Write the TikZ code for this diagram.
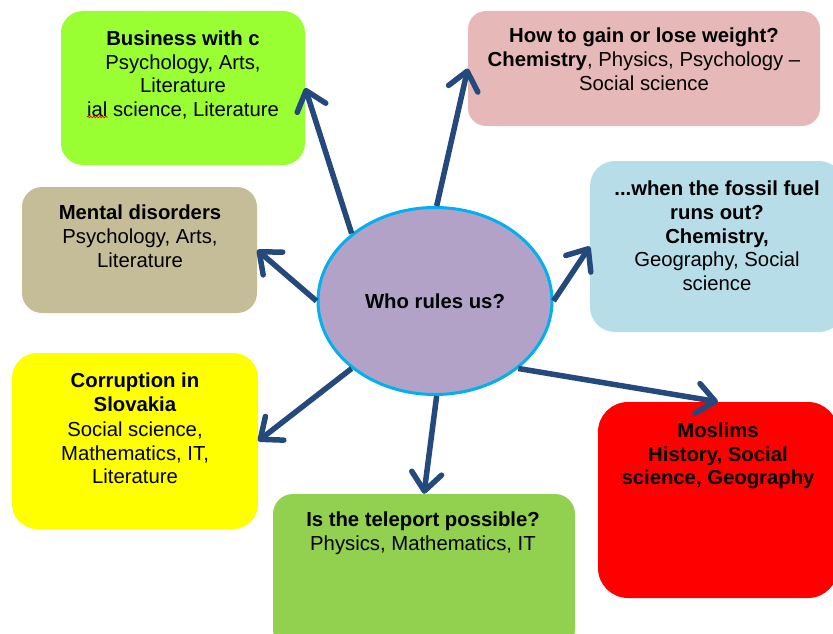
\documentclass[tikz,border=0pt]{standalone}
\usepackage{fontspec}
\setmainfont{Liberation Sans}
\usetikzlibrary{arrows.meta,shapes.geometric,calc,decorations.pathmorphing}
\definecolor{arrowblue}{RGB}{36,73,125}
\definecolor{ellfill}{HTML}{B3A2C7}
\definecolor{ellborder}{HTML}{00B0F0}
\definecolor{cgreenA}{HTML}{99FF33}
\definecolor{cpink}{HTML}{E6B9B8}
\definecolor{ctan}{HTML}{C4BD97}
\definecolor{cblue}{HTML}{B7DEE8}
\definecolor{cyellow}{HTML}{FFFF00}
\definecolor{cgreenB}{HTML}{92D050}
\definecolor{cred}{HTML}{FF0000}
\begin{document}
\begin{tikzpicture}[x=1pt,y=-1pt,
  box/.style={rectangle, rounded corners=22pt, inner sep=0pt, draw=none},
  txt/.style={align=center, inner sep=0pt, anchor=north, text=black,
    font=\fontsize{20.3}{23.6}\selectfont},
  conn/.style={-{Straight Barb[length=18pt,width=30pt,round]}, line width=5.5pt, draw=arrowblue},
  squiggle/.style={draw=red, line width=0.7pt, decorate, decoration={snake, amplitude=0.8pt, segment length=3pt}}]
\useasboundingbox (0,0) rectangle (833,634);
\clip (0,0) rectangle (833,634);
% boxes
\node[box, fill=cgreenA, minimum width=244pt, minimum height=154pt] (g1) at (183,88) {};
\node[box, fill=cpink, rounded corners=18pt, minimum width=352pt, minimum height=115pt] (p) at (644,68.5) {};
\node[box, fill=ctan, rounded corners=20pt, minimum width=235pt, minimum height=126pt] (t) at (139.5,250) {};
\node[box, fill=cblue, rounded corners=25pt, minimum width=254pt, minimum height=171pt] (b) at (717,246.5) {};
\node[box, fill=cyellow, rounded corners=25pt, minimum width=246pt, minimum height=176pt] (y) at (135,441) {};
\node[box, fill=cgreenB, rounded corners=20pt, minimum width=302pt, minimum height=156pt] (g2) at (424,572) {};
\node[box, fill=cred, rounded corners=30pt, minimum width=240pt, minimum height=196pt] (r) at (718,500) {};
% texts
\node[txt] (g1t) at (183,30.5) {\textbf{Business with c}\\Psychology, Arts,\\Literature\\ial science, Literature};
\node[txt] (pt) at (644,28) {\textbf{How to gain or lose weight?}\\\textbf{Chemistry}, Physics, Psychology –\\Social science};
\node[txt] (tt) at (140,205) {\textbf{Mental disorders}\\Psychology, Arts,\\Literature};
\node[txt] (bt) at (717,181) {\textbf{...when the fossil fuel}\\\textbf{runs out?}\\\textbf{Chemistry,}\\Geography, Social\\science};
\node[txt] (yt) at (135,372.5) {\textbf{Corruption in}\\\textbf{Slovakia}\\[2pt]Social science,\\Mathematics, IT,\\Literature};
\node[txt] (g2t) at (423,512) {\textbf{Is the teleport possible?}\\Physics, Mathematics, IT};
\node[txt] (rt) at (718,422.5) {\textbf{Moslims}\\\textbf{History, Social}\\\textbf{science, Geography}};
% spell-check squiggle under "ial"
\draw[squiggle] ($(g1t.south west)+(0,-2)$) -- ($(g1t.south west)+(21,-2)$);
% centre
\node[ellipse, draw=ellborder, line width=3pt, fill=ellfill, minimum width=234pt, minimum height=187pt, inner sep=0pt,
  font=\fontsize{20.3}{23.6}\selectfont\bfseries] (ell) at (435,301) {Who rules us?};
% connectors
\draw[conn] (ell.141) -- (g1.east);
\draw[conn] (ell.89) -- (p.west);
\draw[conn] (ell.0) -- (b.west);
\draw[conn] (ell.-39) -- (r.north);
\draw[conn] (ell.-89) -- (g2.north);
\draw[conn] (ell.219) -- (y.east);
\draw[conn] (ell.180) -- (t.east);
\end{tikzpicture}
\end{document}
